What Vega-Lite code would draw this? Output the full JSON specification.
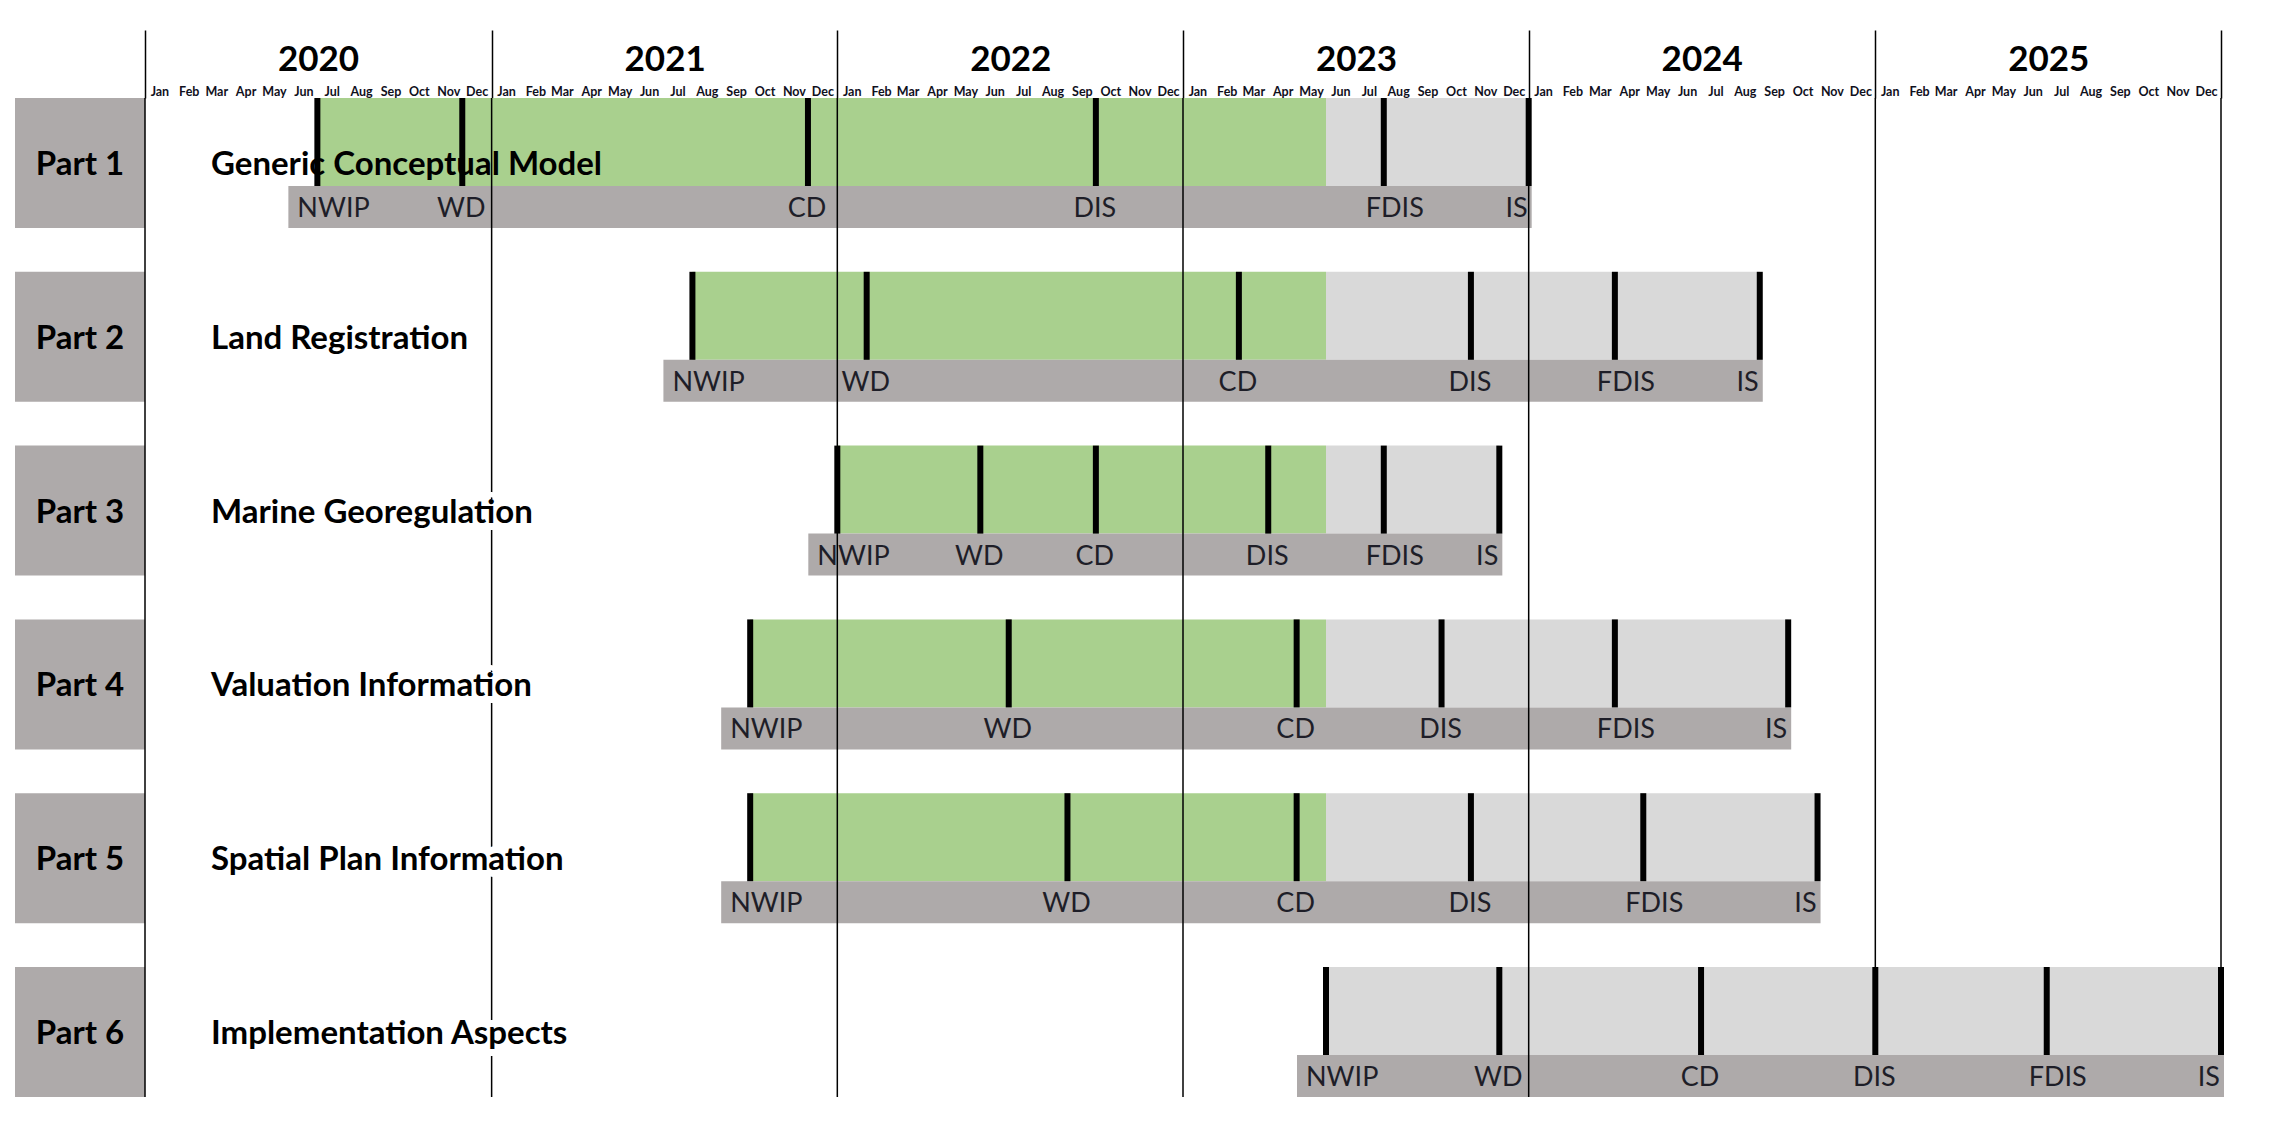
{
  "$schema": "https://vega.github.io/schema/vega-lite/v6.json",
  "background": "white",
  "padding": {"left": 15, "top": 29, "right": 20, "bottom": 20},
  "spacing": 0,
  "bounds": "flush",
  "config": {"view": {"stroke": null}, "font": "Lato"},
  "datasets": {
    "parts": [
      {"part": "Part 1", "title": "Generic Conceptual Model"},
      {"part": "Part 2", "title": "Land Registration"},
      {"part": "Part 3", "title": "Marine Georegulation"},
      {"part": "Part 4", "title": "Valuation Information"},
      {"part": "Part 5", "title": "Spatial Plan Information"},
      {"part": "Part 6", "title": "Implementation Aspects"}
    ],
    "phases": [
      {"part": "Part 1", "status": "done", "start": "2020-07-01", "end": "2023-06-01"},
      {"part": "Part 1", "status": "planned", "start": "2023-06-01", "end": "2024-01-01"},
      {"part": "Part 2", "status": "done", "start": "2021-08-01", "end": "2023-06-01"},
      {"part": "Part 2", "status": "planned", "start": "2023-06-01", "end": "2024-09-01"},
      {"part": "Part 3", "status": "done", "start": "2022-01-01", "end": "2023-06-01"},
      {"part": "Part 3", "status": "planned", "start": "2023-06-01", "end": "2023-12-01"},
      {"part": "Part 4", "status": "done", "start": "2021-10-01", "end": "2023-06-01"},
      {"part": "Part 4", "status": "planned", "start": "2023-06-01", "end": "2024-10-01"},
      {"part": "Part 5", "status": "done", "start": "2021-10-01", "end": "2023-06-01"},
      {"part": "Part 5", "status": "planned", "start": "2023-06-01", "end": "2024-11-01"},
      {"part": "Part 6", "status": "planned", "start": "2023-06-01", "end": "2026-01-01"}
    ],
    "milestones": [
      {"part": "Part 1", "stage": "NWIP", "date": "2020-07-01"},
      {"part": "Part 1", "stage": "WD", "date": "2020-12-01"},
      {"part": "Part 1", "stage": "CD", "date": "2021-12-01"},
      {"part": "Part 1", "stage": "DIS", "date": "2022-10-01"},
      {"part": "Part 1", "stage": "FDIS", "date": "2023-08-01"},
      {"part": "Part 1", "stage": "IS", "date": "2024-01-01"},
      {"part": "Part 2", "stage": "NWIP", "date": "2021-08-01"},
      {"part": "Part 2", "stage": "WD", "date": "2022-02-01"},
      {"part": "Part 2", "stage": "CD", "date": "2023-03-01"},
      {"part": "Part 2", "stage": "DIS", "date": "2023-11-01"},
      {"part": "Part 2", "stage": "FDIS", "date": "2024-04-01"},
      {"part": "Part 2", "stage": "IS", "date": "2024-09-01"},
      {"part": "Part 3", "stage": "NWIP", "date": "2022-01-01"},
      {"part": "Part 3", "stage": "WD", "date": "2022-06-01"},
      {"part": "Part 3", "stage": "CD", "date": "2022-10-01"},
      {"part": "Part 3", "stage": "DIS", "date": "2023-04-01"},
      {"part": "Part 3", "stage": "FDIS", "date": "2023-08-01"},
      {"part": "Part 3", "stage": "IS", "date": "2023-12-01"},
      {"part": "Part 4", "stage": "NWIP", "date": "2021-10-01"},
      {"part": "Part 4", "stage": "WD", "date": "2022-07-01"},
      {"part": "Part 4", "stage": "CD", "date": "2023-05-01"},
      {"part": "Part 4", "stage": "DIS", "date": "2023-10-01"},
      {"part": "Part 4", "stage": "FDIS", "date": "2024-04-01"},
      {"part": "Part 4", "stage": "IS", "date": "2024-10-01"},
      {"part": "Part 5", "stage": "NWIP", "date": "2021-10-01"},
      {"part": "Part 5", "stage": "WD", "date": "2022-09-01"},
      {"part": "Part 5", "stage": "CD", "date": "2023-05-01"},
      {"part": "Part 5", "stage": "DIS", "date": "2023-11-01"},
      {"part": "Part 5", "stage": "FDIS", "date": "2024-05-01"},
      {"part": "Part 5", "stage": "IS", "date": "2024-11-01"},
      {"part": "Part 6", "stage": "NWIP", "date": "2023-06-01"},
      {"part": "Part 6", "stage": "WD", "date": "2023-12-01"},
      {"part": "Part 6", "stage": "CD", "date": "2024-07-01"},
      {"part": "Part 6", "stage": "DIS", "date": "2025-01-01"},
      {"part": "Part 6", "stage": "FDIS", "date": "2025-07-01"},
      {"part": "Part 6", "stage": "IS", "date": "2026-01-01"}
    ],
    "years": [
      {"boundary": "2020-01-01"}, {"boundary": "2021-01-01"}, {"boundary": "2022-01-01"},
      {"boundary": "2023-01-01"}, {"boundary": "2024-01-01"}, {"boundary": "2025-01-01"},
      {"boundary": "2026-01-01"}
    ]
  },
  "hconcat": [
    {
      "width": 130,
      "height": 999,
      "data": {"name": "parts"},
      "encoding": {
        "y": {"field": "part", "type": "nominal", "axis": null, "scale": {"paddingInner": 0.252, "paddingOuter": 0}}
      },
      "layer": [
        {"mark": {"type": "rect", "color": "#aeaaaa", "opacity": 1}},
        {
          "mark": {"type": "text", "font": "Lato", "fontWeight": "bold", "fontSize": 33, "color": "#000000", "baseline": "middle", "align": "center", "dy": 2},
          "encoding": {"text": {"field": "part"}}
        }
      ]
    },
    {
      "width": 2076,
      "height": 999,
      "resolve": {"axis": {"x": "independent"}},
      "layer": [
        {
          "data": {"name": "years", "format": {"parse": {"boundary": "date"}}},
          "transform": [{"filter": "utcyear(datum.boundary) >= 2025"}],
          "mark": {"type": "rule", "color": "#000000", "strokeWidth": 1.5},
          "encoding": {
            "x": {
              "field": "boundary", "type": "temporal",
              "scale": {"type": "utc", "nice": false, "domain": [{"year": 2020, "month": 1, "date": 1, "utc": true}, {"year": 2026, "month": 1, "date": 1, "utc": true}]},
              "axis": null
            }
          }
        },
        {
          "data": {"name": "phases", "format": {"parse": {"start": "date", "end": "date"}}},
          "mark": {"type": "bar", "height": 88, "yOffset": -21, "opacity": 1},
          "encoding": {
            "x": {
              "field": "start", "type": "temporal",
              "axis": {
                "orient": "top", "title": null, "domain": false, "grid": false, "ticks": false, "tickSize": 0,
                "tickCount": {"interval": "month", "step": 1},
                "labelOffset": 14.4, "labelPadding": 7, "labelBaseline": "middle", "labelAngle": 0,
                "labelFont": "Lato", "labelFontWeight": "bold", "labelFontSize": 12.5, "labelColor": "#10101c",
                "labelFlush": false, "labelOverlap": false,
                "labelExpr": "utcyear(datum.value) > 2025 ? '' : utcFormat(datum.value, '%b')"
              }
            },
            "x2": {"field": "end"},
            "y": {"field": "part", "type": "nominal", "axis": null, "scale": {"paddingInner": 0.252, "paddingOuter": 0}},
            "color": {"field": "status", "type": "nominal", "scale": {"domain": ["done", "planned"], "range": ["#a9d08e", "#d9d9d9"]}, "legend": null}
          }
        },
        {
          "data": {"name": "milestones", "format": {"parse": {"date": "date"}}},
          "transform": [
            {"aggregate": [{"op": "min", "field": "date", "as": "first"}, {"op": "max", "field": "date", "as": "last"}], "groupby": ["part"]}
          ],
          "mark": {"type": "bar", "height": 42, "yOffset": 44, "xOffset": -29, "x2Offset": 3, "color": "#aeaaaa", "opacity": 1},
          "encoding": {
            "x": {"field": "first", "type": "temporal", "axis": null},
            "x2": {"field": "last"},
            "y": {"field": "part", "type": "nominal", "axis": null}
          }
        },
        {
          "data": {"name": "years", "format": {"parse": {"boundary": "date"}}},
          "transform": [{"filter": "utcyear(datum.boundary) < 2025"}],
          "mark": {"type": "rule", "color": "#000000", "strokeWidth": 1.5},
          "encoding": {
            "x": {"field": "boundary", "type": "temporal", "axis": null}
          }
        },
        {
          "data": {"name": "years", "format": {"parse": {"boundary": "date"}}},
          "mark": {"type": "rule", "opacity": 0},
          "encoding": {
            "x": {
              "field": "boundary", "type": "temporal",
              "axis": {
                "orient": "top", "title": null, "domain": false, "grid": false,
                "tickCount": {"interval": "year", "step": 1},
                "tickSize": 68, "tickWidth": 1.5, "tickColor": "#000000",
                "labelOffset": 173, "labelPadding": -29, "labelBaseline": "middle", "labelAngle": 0,
                "labelFont": "Lato", "labelFontWeight": "bold", "labelFontSize": 35, "labelColor": "#000000",
                "labelFlush": false, "labelOverlap": false,
                "labelExpr": "utcyear(datum.value) > 2025 ? '' : utcFormat(datum.value, '%Y')"
              }
            }
          }
        },
        {
          "data": {"name": "milestones", "format": {"parse": {"date": "date"}}},
          "mark": {"type": "tick", "thickness": 6, "size": 88, "yOffset": -21, "color": "#000000", "opacity": 1},
          "encoding": {
            "x": {"field": "date", "type": "temporal", "axis": null},
            "y": {"field": "part", "type": "nominal", "axis": null}
          }
        },
        {
          "data": {"name": "parts"},
          "transform": [{"filter": "datum.part !== 'Part 1'"}],
          "mark": {"type": "text", "align": "left", "baseline": "middle", "dx": 66, "dy": 2, "font": "Lato", "fontWeight": "bold", "fontSize": 33, "color": "#ffffff", "stroke": "#ffffff", "strokeWidth": 14, "strokeJoin": "round"},
          "encoding": {
            "x": {"datum": {"year": 2020, "month": 1, "date": 1, "utc": true}, "type": "temporal", "axis": null},
            "y": {"field": "part", "type": "nominal", "axis": null},
            "text": {"field": "title"}
          }
        },
        {
          "data": {"name": "parts"},
          "mark": {"type": "text", "align": "left", "baseline": "middle", "dx": 66, "dy": 2, "font": "Lato", "fontWeight": "bold", "fontSize": 33, "color": "#000000"},
          "encoding": {
            "x": {"datum": {"year": 2020, "month": 1, "date": 1, "utc": true}, "type": "temporal", "axis": null},
            "y": {"field": "part", "type": "nominal", "axis": null},
            "text": {"field": "title"}
          }
        },
        {
          "data": {"name": "milestones", "format": {"parse": {"date": "date"}}},
          "transform": [{"filter": {"field": "stage", "equal": "NWIP"}}],
          "mark": {"type": "text", "align": "left", "baseline": "middle", "dx": -20, "yOffset": 46, "font": "Lato", "fontSize": 27, "color": "#1e1e28"},
          "encoding": {
            "x": {"field": "date", "type": "temporal", "axis": null},
            "y": {"field": "part", "type": "nominal", "axis": null},
            "text": {"field": "stage"}
          }
        },
        {
          "data": {"name": "milestones", "format": {"parse": {"date": "date"}}},
          "transform": [{"filter": {"field": "stage", "equal": "IS"}}],
          "mark": {"type": "text", "align": "right", "baseline": "middle", "dx": -1, "yOffset": 46, "font": "Lato", "fontSize": 27, "color": "#1e1e28"},
          "encoding": {
            "x": {"field": "date", "type": "temporal", "axis": null},
            "y": {"field": "part", "type": "nominal", "axis": null},
            "text": {"field": "stage"}
          }
        },
        {
          "data": {"name": "milestones", "format": {"parse": {"date": "date"}}},
          "transform": [{"filter": {"field": "stage", "equal": "FDIS"}}],
          "mark": {"type": "text", "align": "center", "baseline": "middle", "dx": 11, "yOffset": 46, "font": "Lato", "fontSize": 27, "color": "#1e1e28"},
          "encoding": {
            "x": {"field": "date", "type": "temporal", "axis": null},
            "y": {"field": "part", "type": "nominal", "axis": null},
            "text": {"field": "stage"}
          }
        },
        {
          "data": {"name": "milestones", "format": {"parse": {"date": "date"}}},
          "transform": [{"filter": {"field": "stage", "oneOf": ["WD", "CD", "DIS"]}}],
          "mark": {"type": "text", "align": "center", "baseline": "middle", "dx": -1, "yOffset": 46, "font": "Lato", "fontSize": 27, "color": "#1e1e28"},
          "encoding": {
            "x": {"field": "date", "type": "temporal", "axis": null},
            "y": {"field": "part", "type": "nominal", "axis": null},
            "text": {"field": "stage"}
          }
        }
      ]
    }
  ]
}
